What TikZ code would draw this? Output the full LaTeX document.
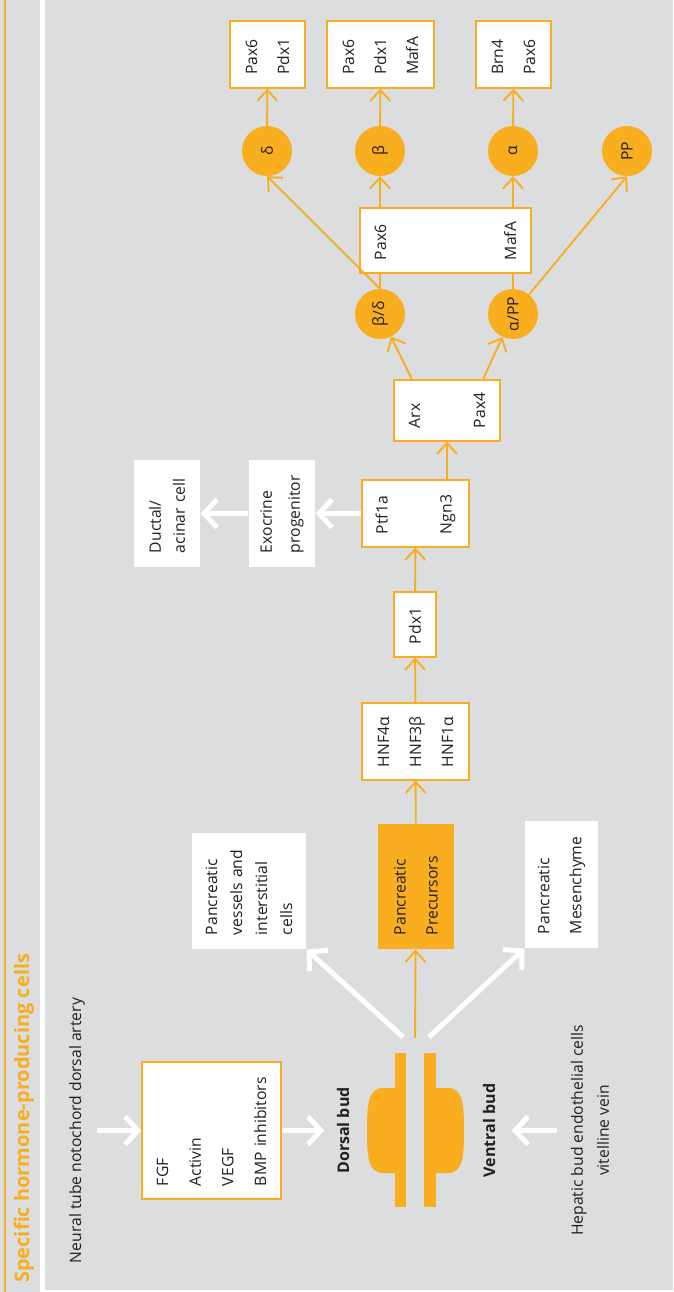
\documentclass[tikz,border=0pt]{standalone}
\usepackage{fontspec}
\setmainfont{Open Sans}
\usetikzlibrary{arrows.meta,calc}

\definecolor{budorange}{HTML}{F8AE1E}
\definecolor{panelgrey}{HTML}{DCDDDE}
\definecolor{ink}{HTML}{231F20}

\tikzset{
  lead/.style={font=\fontsize{15.7}{#1}\selectfont},
  gene/.style={draw=budorange, fill=white, line width=1.2pt, rotate=90,
               align=left, inner xsep=13pt, inner ysep=0pt, text=ink, lead=32},
  plainbox/.style={gene, draw=none, inner xsep=14pt},
  precbox/.style={gene, draw=none, fill=budorange, inner xsep=14pt},
  cell/.style={circle, fill=budorange, minimum size=50pt, inner sep=0pt,
               rotate=90, text=ink, lead=18},
  note/.style={rotate=90, align=center, text=ink, lead=26},
  budlabel/.style={rotate=90, text=ink, font=\fontsize{16}{18}\selectfont\bfseries},
  oline/.style={draw=budorange, line width=1.9pt},
  oarrow/.style={oline, -{Straight Barb[length=11pt,width=20pt]}},
  warrow/.style={draw=white, line width=5pt, -{Straight Barb[length=13pt,width=28pt]}},
}

\begin{document}
\begin{tikzpicture}[x=1pt,y=-1pt]

    % panel
    \fill[panelgrey] (0,0) rectangle (673,1292);
    \fill[budorange] (3.5,0) rectangle (5.5,1292);
    \fill[white] (39.5,0) rectangle (44.5,1292);
    \fill[white] (44.5,1290) rectangle (673,1292);

    \node[rotate=90, anchor=west, text=budorange, inner xsep=0pt,
          font=\fontsize{20}{22}\selectfont\bfseries] (title) at (24,1283)
          {Specific hormone-producing cells};

    % signals and buds
    \node[note] (neural) at (77,1130.5) {Neural tube notochord dorsal artery};
    \node[gene, text width=111pt, minimum width=137pt, minimum height=139pt, lead=32.7]
          (fgf) at (211.5,1130.5) {FGF\\Activin\\VEGF\\BMP inhibitors};
    \node[budlabel] (dlab) at (343,1130.5) {Dorsal bud};
    \node[budlabel] (vlab) at (489,1130.5) {Ventral bud};
    \node[note] (hep) at (590,1130.5) {Hepatic bud endothelial cells\\vitelline vein};

    \fill[budorange] (395,1053) rectangle (406,1207);
    \fill[budorange] (424,1053) rectangle (436,1207);
    \fill[budorange] (395,1088) -- (383,1088) .. controls (368,1088) and (367,1105) .. (367,1130.5)
          .. controls (367,1156) and (368,1173) .. (383,1173) -- (395,1173) -- cycle;
    \fill[budorange] (436,1088) -- (448,1088) .. controls (463,1088) and (464,1105) .. (464,1130.5)
          .. controls (464,1156) and (463,1173) .. (448,1173) -- (436,1173) -- cycle;

    \coordinate (budtop) at (415,1038);
    \coordinate (budL) at (403,1037);
    \coordinate (budR) at (429,1037);

    % first fates
    \node[plainbox, text width=88pt, minimum width=116pt, minimum height=114pt, lead=25]
          (vess) at (249,891) {Pancreatic\\vessels and\\interstitial\\cells};
    \node[precbox, text width=97pt, minimum width=125pt, minimum height=76pt]
          (prec) at (416,886.5) {Pancreatic\\Precursors};
    \node[plainbox, text width=99pt, minimum width=127pt, minimum height=73pt]
          (mes) at (561.5,884.5) {Pancreatic\\Mesenchyme};

    % transcription factors
    \node[gene, text width=51pt, minimum width=77pt, minimum height=107pt]
          (hnf) at (415.5,741.5) {HNF4α\\HNF3β\\HNF1α};
    \node[gene, text width=39pt, minimum width=65pt, minimum height=42pt]
          (pdx) at (415,624.5) {Pdx1};
    \node[gene, text width=41pt, minimum width=67pt, minimum height=107pt, lead=64]
          (ptf) at (415.5,513.5) {Ptf1a\\Ngn3};
    \node[plainbox, text width=79pt, minimum width=107pt, minimum height=66pt, lead=28]
          (exo) at (282,513.5) {Exocrine\\progenitor};
    \node[plainbox, text width=79pt, minimum width=107pt, minimum height=66pt, lead=24]
          (duct) at (167,513.5) {Ductal/\\acinar cell};
    \node[gene, text width=35pt, minimum width=61pt, minimum height=106pt, lead=65]
          (arx) at (447,410.5) {Arx\\Pax4};

    % endocrine cells
    \node[cell] (cBD) at (380,314) {β/δ};
    \node[cell] (cAP) at (513,314) {α/PP};
    \node[gene, text width=39pt, minimum width=65pt, minimum height=171pt, lead=130]
          (mid) at (445.5,240.5) {Pax6\\MafA};
    \node[cell] (cD) at (267,151) {δ};
    \node[cell] (cB) at (380,151) {β};
    \node[cell] (cA) at (513,151) {α};
    \node[cell] (cPP) at (627,151) {PP};

    \node[gene, text width=41pt, minimum width=67pt, minimum height=75pt]
          (topD) at (267.5,54.5) {Pax6\\Pdx1};
    \node[gene, text width=41pt, minimum width=67pt, minimum height=107pt]
          (topB) at (380.5,54.5) {Pax6\\Pdx1\\MafA};
    \node[gene, text width=41pt, minimum width=67pt, minimum height=75pt]
          (topA) at (513.5,54.5) {Brn4\\Pax6};

    % white arrows
    \draw[warrow, shorten <=9pt] (neural) -- (fgf);
    \draw[warrow, shorten >=9pt] (fgf) -- (dlab);
    \draw[warrow, shorten <=10pt, shorten >=13pt] (hep) -- (vlab);
    \draw[warrow] (budL) -- (vess.south west);
    \draw[warrow] (budR) -- (mes.north west);
    \draw[warrow] (ptf) -- (exo);
    \draw[warrow] (exo) -- (duct);

    % orange arrows
    \draw[oarrow] (budtop) -- (prec);
    \draw[oarrow] (prec) -- (hnf);
    \draw[oarrow] (hnf) -- (pdx);
    \draw[oarrow] (pdx) -- (ptf);
    \draw[oarrow] (ptf.east -| arx.west) -- (arx.west);
    \draw[oarrow] ($(arx.east)+(-35,0)$) -- (cBD);
    \draw[oarrow] ($(arx.east)+(36,0)$) -- (cAP);
    \draw[oline] (cBD.east) -- (cBD.east |- mid.west);
    \draw[oline] (cAP.east) -- (cAP.east |- mid.west);
    \draw[oarrow] (cB |- mid.east) -- (cB);
    \draw[oarrow] (cA |- mid.east) -- (cA);
    \draw[oarrow] (cBD.east) -- (cD.west);
    \draw[oarrow] (cAP) -- (cPP.west);
    \draw[oarrow] (cD) -- (topD);
    \draw[oarrow] (cB) -- (topB);
    \draw[oarrow] (cA) -- (topA);

\end{tikzpicture}
\end{document}
